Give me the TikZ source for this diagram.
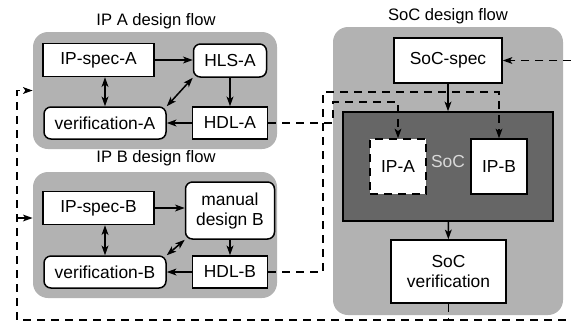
\documentclass[tikz,border=0pt]{standalone}
\usepackage{fontspec}
\setmainfont{Liberation Sans}
\usepackage{tikz}
\usetikzlibrary{positioning,arrows.meta}

\tikzset{
  group/.style={fill=black!30, rounded corners=7.5pt, inner sep=0pt},
  title/.style={font=\fontsize{8.3}{10}\selectfont, inner sep=0pt},
  block/.style={draw, fill=white, line width=0.75pt, inner sep=0pt, align=center,
    font=\fontsize{8.7}{10}\selectfont},
  rblock/.style={block, rounded corners=3.5pt},
  flow/.style={->, line width=0.75pt},
  fb/.style={->, line width=0.65pt, dash pattern=on 4pt off 3pt},
}

\begin{document}
\begin{tikzpicture}[x=0.5pt, y=-0.5pt, >={Stealth[length=4.8pt, width=3.4pt, inset=1.2pt]}]
    \useasboundingbox (0,0) rectangle (571,323);
    \clip (0,0) rectangle (571,323);

    % design flow regions
    \node [group, minimum width=122pt, minimum height=58.5pt] (grpA) at (155,90.5) {};
    \node [group, minimum width=122pt, minimum height=63pt] (grpB) at (155,235) {};
    \node [group, minimum width=115pt, minimum height=144pt] (grpS) at (448,171) {};

    \foreach \l/\x/\y [count=\i] in {IP A/156/21.5, IP B/156/158, SoC/448/16}
      \node [title] (title-\i) at (\x,\y) {\l{} design flow};

    % IP flows
    \foreach \f/\ys/\yv in {A/60/123, B/208/272} {
      \node [block, minimum width=55.5pt, minimum height=16.5pt] (spec\f) at (98.5,\ys) {IP-spec-\f};
      \node [rblock, minimum width=61pt, minimum height=16pt] (ver\f) at (105,\yv) {verification-\f};
      \node [block, minimum width=37.5pt, minimum height=16pt] (hdl\f) at (230,\yv) {HDL-\f};
    }
    \node [rblock, minimum width=36.5pt, minimum height=16.5pt] (synA) at (230,60.5) {HLS-A};
    \node [rblock, minimum width=44.5pt, minimum height=28.5pt] (synB) at (230,210.5) {manual\\design B};

    \foreach \f in {A,B} {
      \draw [flow] (spec\f.east) -- (spec\f.east -| syn\f.west);
      \draw [flow, <->] (ver\f.north) -- (ver\f.north |- spec\f.south);
      \draw [flow, <->] (syn\f.south west) -- (ver\f.north east);
      \draw [flow] (syn\f) -- (hdl\f);
      \draw [flow] (hdl\f) -- (ver\f);
    }

    % SoC flow
    \node [block, minimum width=54pt, minimum height=22.5pt] (socspec) at (448,60.5) {SoC-spec};
    \node [block, fill=black!60, minimum width=105pt, minimum height=54.5pt] (soc) at (448,166.5) {};
    \node [block, dash pattern=on 4pt off 3pt, minimum width=28pt, minimum height=27.5pt] (ipA) at (398,166.5) {IP-A};
    \node [block, minimum width=28pt, minimum height=27.5pt] (ipB) at (499,166.5) {IP-B};
    \node [font=\fontsize{8.7}{10}\selectfont, text=black!15, inner sep=0pt] (soclabel) at (448,162) {SoC};
    \node [block, minimum width=57.5pt, minimum height=31.5pt] (socver) at (448.5,271.5) {SoC\\verification};

    \draw [flow] (socspec) -- (soc);
    \draw [flow] (soc) -- (socver);

    % IP hand-off
    \coordinate (jA) at (333,102);
    \coordinate (jB) at (323,92);
    \draw [fb] (hdlA.east) -| (jA) -| (ipA.north);
    \draw [fb] (hdlB.east) -| (jB) -| (ipB.north);

    % feedback
    \coordinate (fbL) at (17,320);
    \coordinate (fbR) at (575,320);
    \coordinate (fbB) at (17,218);
    \draw [fb] (socver.south) |- (fbL) |- (grpA.west);
    \draw [fb] (fbB) -- (fbB -| grpB.west);
    \draw [fb] (socver.south) |- (fbR) |- (socspec.east);
\end{tikzpicture}
\end{document}
